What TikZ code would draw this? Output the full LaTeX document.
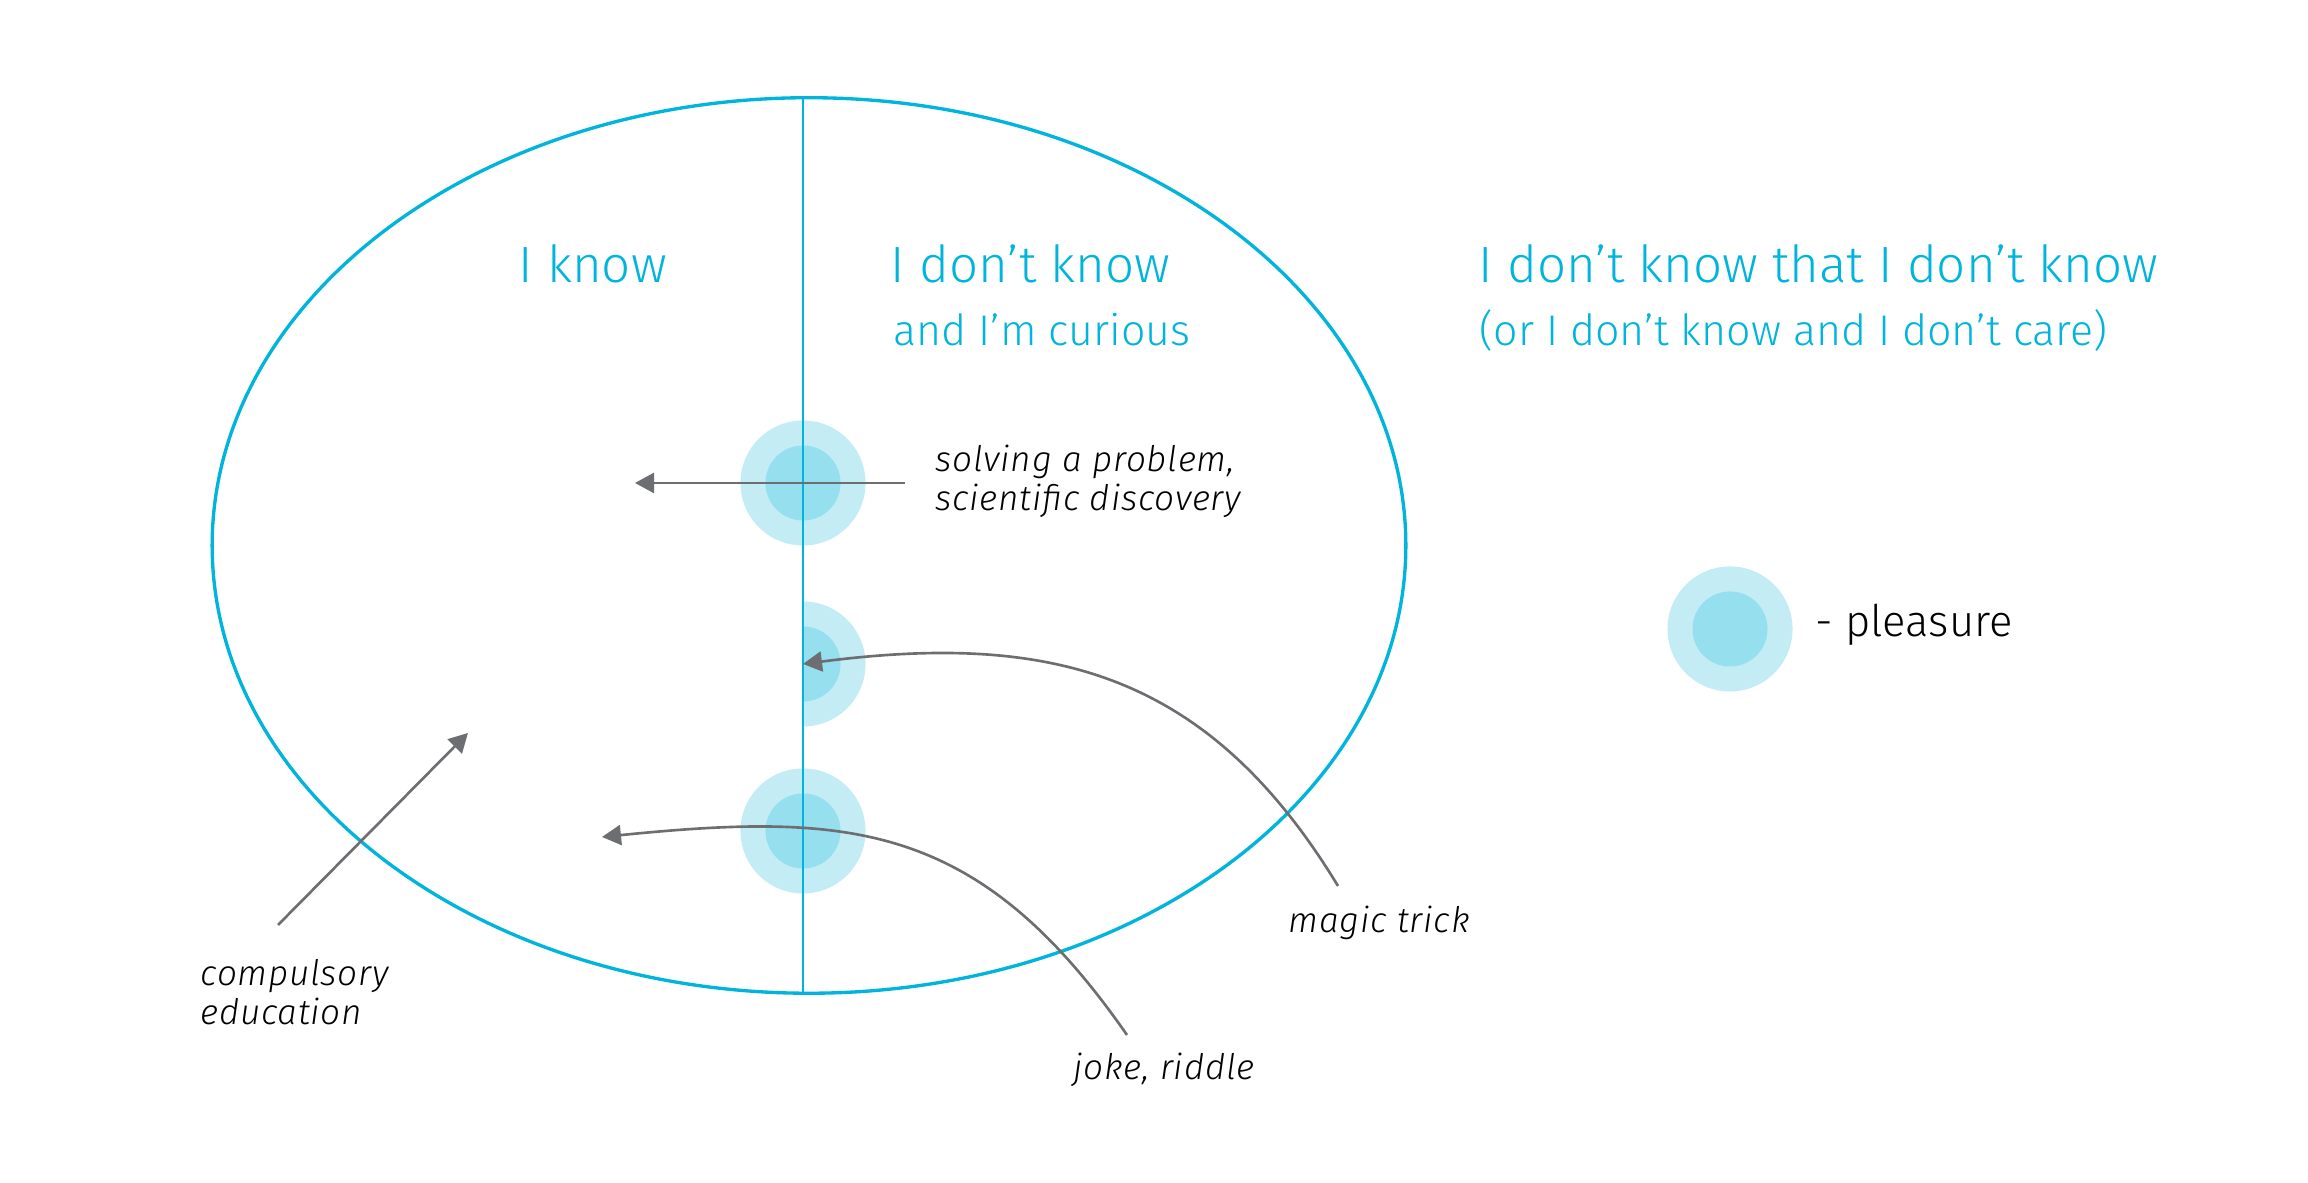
\documentclass[tikz,border=0pt]{standalone}
\usepackage{fontspec}
\setmainfont{Fira Sans Light}[ItalicFont={Fira Sans Light Italic}]
\newfontfamily\notefont{Fira Sans Light Italic}[LetterSpace=2]
\usetikzlibrary{arrows.meta,shapes.geometric}
\definecolor{zoneblue}{HTML}{00B4DC}
\definecolor{glowout}{HTML}{C3ECF5}
\definecolor{glowin}{HTML}{96DFEE}
\definecolor{arrowgrey}{HTML}{6D6E71}
\begin{document}
\begin{tikzpicture}[x=0.01cm, y=0.01cm,
    zone/.style={draw=zoneblue, line width=0.95pt, ellipse, inner sep=0pt,
        minimum width=11.93cm, minimum height=8.95cm},
    glow/.style={circle, fill=glowout, minimum size=1.25cm, inner sep=0pt},
    core/.style={circle, fill=glowin, minimum size=0.75cm, inner sep=0pt},
    pointer/.style={draw=arrowgrey, line width=0.75pt,
        -{Triangle[length=1.9mm, width=2mm]}},
    heading/.style={text=zoneblue, anchor=base west, inner sep=0pt,
        font=\fontsize{14.5}{17}\selectfont},
    subheading/.style={heading, font=\fontsize{12.2}{15}\selectfont},
    note/.style={anchor=base west, inner sep=0pt, align=left,
        font=\notefont\fontsize{10}{11.1}\selectfont}]
    \useasboundingbox (0,0) rectangle (2308,1183);
    % pleasure spots
    \node[glow] (g1) at (803,700) {};
    \node[core] (c1) at (g1) {};
    \begin{scope}
        \clip (803,440) rectangle (880,600);
        \node[glow] (g2) at (803,519) {};
        \node[core] (c2) at (g2) {};
    \end{scope}
    \node[glow] (g3) at (803,352) {};
    \node[core] (c3) at (g3) {};
    \node[glow] (g4) at (1730,554) {};
    \node[core] (c4) at (g4) {};
    % the field of knowing
    \node[zone] (field) at (809,637.5) {};
    \coordinate (dtop) at (803,1085);
    \coordinate (dbot) at (803,190);
    \draw[zoneblue, line width=0.75pt] (dtop) -- (dbot);
    % headings
    \node[heading] (know) at (518,900) {I know};
    \node[heading] (dontknow) at (890,900) {I don’t know};
    \node[subheading] (curious) at (893,837) {and I’m curious};
    \node[heading] (unaware) at (1478,900) {I don’t know that I don’t know};
    \node[subheading] (careless) at (1479,837) {(or I don’t know and I don’t care)};
    \node[anchor=base west, inner sep=0pt, font=\fontsize{12.4}{15}\selectfont]
        (legend) at (1815,546) {- pleasure};
    % notes (anchored on the last line)
    \node[note] (solving) at (935,672) {solving a problem,\\scientific discovery};
    \node[note] (magic) at (1288,250) {magic trick};
    \node[note] (joke) at (1073,103) {joke, riddle};
    \node[note] (school) at (200,158) {compulsory\\education};
    % pointers
    \coordinate (t1) at (905,700);
    \coordinate (h1) at (635,700);
    \draw[pointer] (t1) -- (h1);
    \coordinate (t2) at (1338,297);
    \draw[pointer] (t2) .. controls (1208,511) and (1051,551) .. (g2.center);
    \coordinate (t3) at (1127,148);
    \coordinate (h3) at (602,346);
    \draw[pointer] (t3) .. controls (979,361) and (851,371) .. (h3);
    \coordinate (t4) at (278,258);
    \coordinate (h4) at (468,450);
    \draw[pointer] (t4) -- (h4);
\end{tikzpicture}
\end{document}
